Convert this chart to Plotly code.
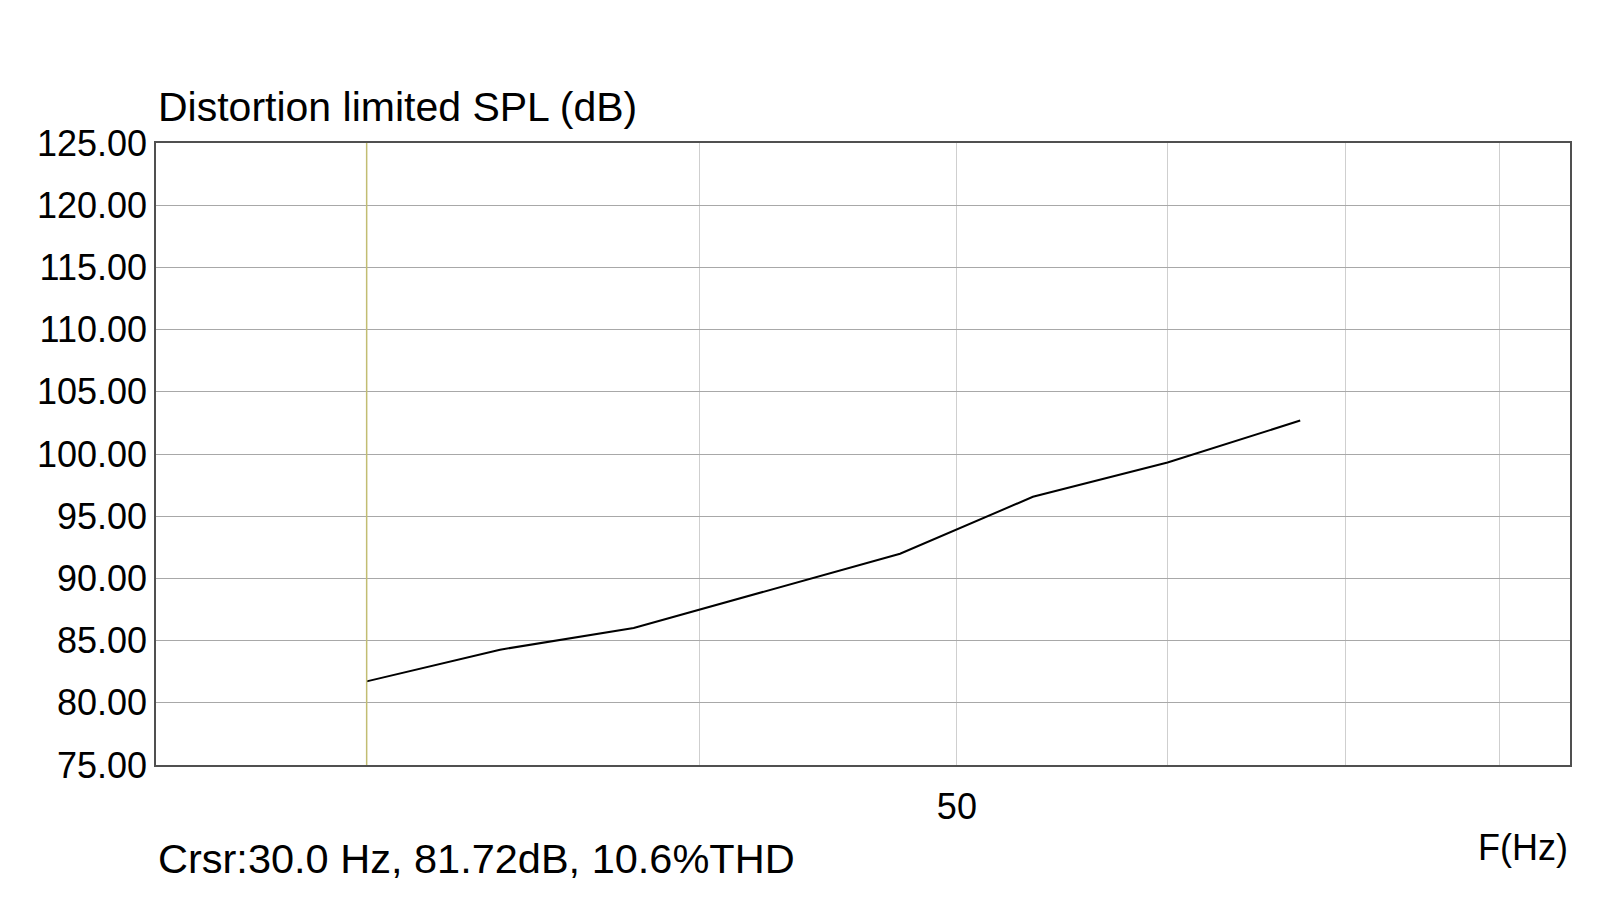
import numpy as np
import plotly.graph_objects as go

# 1/6 octave points
freq_hz = [30.0, 33.67, 37.8, 42.4, 47.6, 53.4, 60.0, 67.3]
spl_db = [81.72, 84.27, 86.02, 88.97, 91.98, 96.56, 99.32, 102.69]

x_grid = [30, 40, 50, 60, 70, 80]
x_labels = ['', '', '50', '', '', '']
y_range = [75, 125]
x_range = [25, 85]
cursor_hz = 30.0

title_text = 'Distortion limited SPL (dB)'
cursor_text = 'Crsr:30.0 Hz, 81.72dB, 10.6%THD'
x_title = 'F(Hz)'

FONT = 'Liberation Sans, Arial, sans-serif'

fig = go.Figure()

fig.add_trace(
    go.Scatter(
        x=freq_hz,
        y=spl_db,
        mode='lines',
        line={'color': 'black', 'width': 2},
        showlegend=False,
        hoverinfo='x+y'
    )
)

# cursor line
fig.add_shape(
    type='line', xref='x', yref='paper',
    x0=cursor_hz, x1=cursor_hz, y0=0, y1=1,
    line={'color': '#c2bd72', 'width': 1.5}
)

fig.add_annotation(
    text=title_text, xref='paper', yref='paper',
    x=0, y=1.0586, xanchor='left', yanchor='middle',
    showarrow=False, font={'family': FONT, 'size': 41, 'color': 'black'}
)
fig.add_annotation(
    text=cursor_text, xref='paper', yref='paper',
    x=0, y=-0.150, xanchor='left', yanchor='middle',
    showarrow=False, font={'family': FONT, 'size': 41.5, 'color': 'black'}
)
fig.add_annotation(
    text=x_title, xref='paper', yref='paper',
    x=1.0, y=-0.1325, xanchor='right', yanchor='middle',
    showarrow=False, font={'family': FONT, 'size': 36, 'color': 'black'}
)

# page body has an 8px margin, so the plot box is shifted back by that much
fig.update_layout(
    autosize=False,
    width=1622, height=900,
    margin={'l': 148, 'r': 60, 't': 135, 'b': 142.5},
    paper_bgcolor='white',
    plot_bgcolor='white',
    font={'family': FONT, 'color': 'black'},
    xaxis={
        'type': 'log',
        'range': [np.log10(x_range[0]), np.log10(x_range[1])],
        'tickvals': x_grid,
        'ticktext': x_labels,
        'tickfont': {'size': 36},
        'ticklabelstandoff': 9,
        'ticks': '',
        'showgrid': True,
        'gridcolor': '#cfcfcf',
        'gridwidth': 1,
        'showline': True,
        'linecolor': '#505050',
        'linewidth': 1.5,
        'mirror': True,
        'zeroline': False,
    },
    yaxis={
        'range': y_range,
        'dtick': 5,
        'tick0': 75,
        'tickformat': '.2f',
        'tickfont': {'size': 36},
        'ticks': '',
        'ticklabelstandoff': 0,
        'showgrid': True,
        'gridcolor': '#a8a8a8',
        'gridwidth': 1,
        'showline': True,
        'linecolor': '#505050',
        'linewidth': 1.5,
        'mirror': True,
        'zeroline': False,
    },
)

fig.write_html("out.html")
